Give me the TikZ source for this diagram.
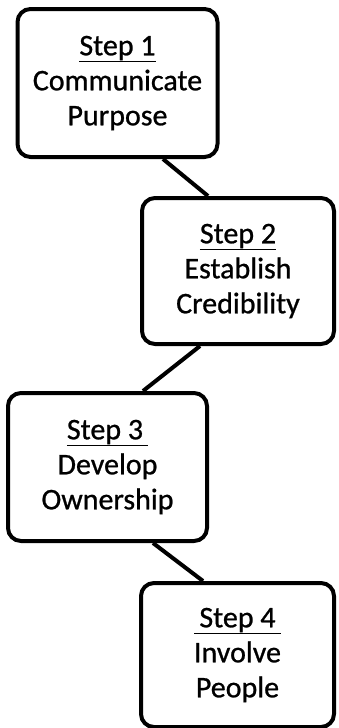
\documentclass[tikz,border=0pt]{standalone}
\usepackage{fontspec}
\setmainfont[FakeBold=0.8]{Carlito}
\begin{document}
\begin{tikzpicture}[x=1pt,y=-1pt,
  stepbox/.style={draw=black, line width=4pt, rounded corners=13pt, fill=white,
    align=center, inner sep=0pt, font=\fontsize{30}{35}\selectfont},
  link/.style={draw=black, line width=4pt}]
\useasboundingbox (0,0) rectangle (338,728);
\node[stepbox, minimum width=200pt, minimum height=148pt] (s1) at (117.5,83)
  {\underline{Step 1}\\Communicate\\Purpose};
\node[stepbox, minimum width=192pt, minimum height=146pt] (s2) at (238,271)
  {\underline{Step 2}\\Establish\\Credibility};
\node[stepbox, minimum width=199pt, minimum height=148pt] (s3) at (107.5,467)
  {\underline{Step 3\,}\\Develop\\Ownership};
\node[stepbox, minimum width=193pt, minimum height=144pt] (s4) at (237.5,655)
  {\underline{\,Step 4\,}\\Involve\\People};
\draw[link] ([xshift=45.5pt]s1.south) -- ([xshift=-30pt]s2.north);
\draw[link] ([xshift=-38pt]s2.south) -- ([xshift=35.5pt]s3.north);
\draw[link] ([xshift=45.5pt]s3.south) -- ([xshift=-34.5pt]s4.north);
\end{tikzpicture}
\end{document}
